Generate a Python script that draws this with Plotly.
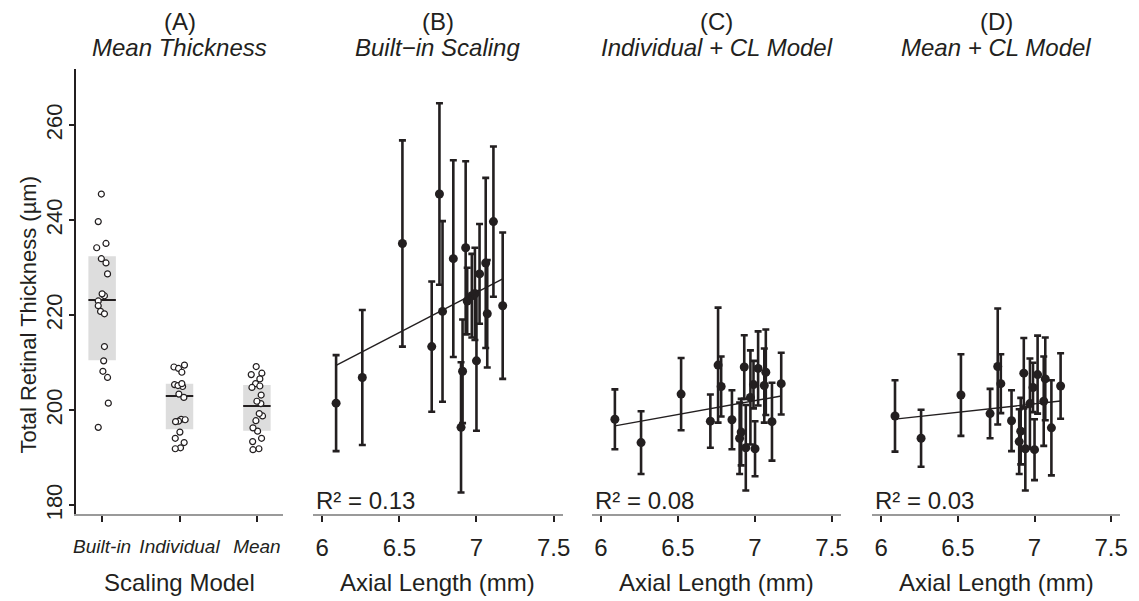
import numpy as np
import plotly.graph_objects as go

W, H = 1139, 601


def px(x):
    return x / W


def py(y):
    return 1 - y / H


# ---------------- data ----------------
axial_length = [6.09, 6.26, 6.52, 6.71, 6.76, 6.78, 6.85, 6.90, 6.91, 6.93,
                6.94, 6.97, 6.99, 7.00, 7.02, 7.06, 7.07, 7.11, 7.17]

builtin_thk = [201.5, 206.9, 235.1, 213.4, 245.5, 220.8, 231.9, 196.4, 208.2, 234.2,
               223.0, 224.1, 224.5, 210.4, 228.7, 231.0, 220.3, 239.7, 222.0]
builtin_err = [10.1, 14.2, 21.7, 13.7, 19.1, 19.0, 20.7, 13.7, 10.9, 18.2,
               7.0, 8.8, 9.7, 14.7, 10.5, 17.9, 11.3, 15.8, 15.4]

individual_thk = [198.1, 193.2, 203.4, 197.7, 209.5, 205.0, 198.0, 194.1, 195.4, 209.1,
                  192.1, 202.7, 205.4, 191.9, 208.8, 205.2, 208.0, 197.6, 205.6]
individual_err = [6.3, 6.6, 7.6, 5.6, 12.1, 6.3, 6.2, 7.5, 7.0, 6.7,
                  9.0, 9.9, 5.0, 5.8, 7.8, 7.8, 9.0, 8.2, 6.5]

mean_thk = [198.8, 194.1, 203.2, 199.3, 209.2, 205.6, 197.8, 193.4, 195.6, 207.8,
            191.9, 201.4, 204.8, 191.7, 207.5, 201.9, 206.6, 196.3, 205.1]
mean_err = [7.5, 6.0, 8.6, 5.2, 12.2, 6.2, 6.4, 6.8, 7.0, 7.4,
            8.8, 9.5, 5.2, 6.4, 8.2, 9.4, 8.7, 10.0, 6.9]

# horizontal jitter of the strip chart in panel A (category units)
builtin_jit = [0.08, 0.07, 0.05, 0.03, -0.01, -0.02, -0.01, -0.05, 0.01, -0.07,
               -0.05, 0.03, 0.0, 0.02, 0.07, 0.05, 0.03, -0.05, -0.05]
individual_jit = [0.022, 0.06, -0.008, -0.013, 0.064, 0.04, 0.073, -0.055, 0.005, -0.072,
                  0.013, 0.056, -0.064, -0.055, -0.013, -0.02, 0.03, -0.051, 0.03]
mean_jit = [0.073, 0.06, 0.055, 0.03, -0.009, -0.017, -0.013, -0.055, 0.009, 0.064,
            0.026, 0.051, -0.064, -0.051, -0.073, 0.0, 0.038, -0.051, 0.038]

categories = ["Built-in", "Individual", "Mean"]
cat_pos = [1, 2, 3]
box_mid = [223.2, 203.0, 200.9]
box_low = [210.5, 196.0, 195.7]
box_high = [232.4, 205.6, 205.3]

# regression fits (intercept, slope) and R^2
fit_intercept = [106.5, 161.2, 176.7]
fit_slope = [16.9, 5.83, 3.52]
r2_labels = ["R\u00b2 = 0.13", "R\u00b2 = 0.08", "R\u00b2 = 0.03"]

panel_letters = ["(A)", "(B)", "(C)", "(D)"]
panel_titles = ["Mean Thickness", "Built\u2212in Scaling", "Individual + CL Model", "Mean + CL Model"]

y_ticks = [180, 200, 220, 240, 260]
x_ticks = [6, 6.5, 7, 7.5]
x_ticklabels = ["6", "6.5", "7", "7.5"]

# ---------------- style ----------------
INK = "#231f20"
FONT = "Liberation Sans"
AXGRAY = "#9a9a9a"

panel_px = [(74, 282.7), (312.7, 564.8), (594, 845.7), (876.7, 1127.3)]
y_top, y_bot = 69.3, 519.5
y_range = [178.1, 271.9]

fig = go.Figure()

# ---- panel A ----
fig.add_trace(go.Bar(
    x=cat_pos, y=np.array(box_high) - np.array(box_low), base=box_low,
    width=0.355, marker=dict(color="#dddddd", line_width=0),
    xaxis="x", yaxis="y", hoverinfo="skip"))
for p, m in zip(cat_pos, box_mid):
    fig.add_trace(go.Scatter(
        x=[p - 0.1775, p + 0.1775], y=[m, m], mode="lines",
        line=dict(color=INK, width=2.2), xaxis="x", yaxis="y"))
for p, vals, jit in zip(cat_pos, [builtin_thk, individual_thk, mean_thk],
                        [builtin_jit, individual_jit, mean_jit]):
    fig.add_trace(go.Scatter(
        x=[p + j for j in jit], y=vals, mode="markers",
        marker=dict(symbol="circle", size=6, color="white",
                    line=dict(color=INK, width=1.2)),
        xaxis="x", yaxis="y"))

# ---- panels B-D ----
series = [(builtin_thk, builtin_err), (individual_thk, individual_err), (mean_thk, mean_err)]
for k, (vals, err) in enumerate(series):
    xa = "x%d" % (k + 2)
    ya = "y%d" % (k + 2)
    fig.add_trace(go.Scatter(
        x=axial_length, y=vals, mode="markers",
        marker=dict(size=9, color=INK),
        error_y=dict(type="data", array=err, visible=True, color=INK,
                     thickness=2.6, width=3.5),
        xaxis=xa, yaxis=ya))
    xs = np.array([min(axial_length), max(axial_length)])
    fig.add_trace(go.Scatter(
        x=xs, y=fit_intercept[k] + fit_slope[k] * xs, mode="lines",
        line=dict(color=INK, width=1.4), xaxis=xa, yaxis=ya))

# ---------------- axes ----------------
layout = dict(
    width=W, height=H, margin=dict(l=0, r=0, t=0, b=0),
    paper_bgcolor="white", plot_bgcolor="white", showlegend=False,
    font=dict(family=FONT, color=INK),
)

ydom = [py(y_bot), py(y_top)]
layout["xaxis"] = dict(
    domain=[px(panel_px[0][0]), px(panel_px[0][1])], range=[0.667, 3.34],
    tickvals=cat_pos, ticktext=categories,
    tickfont=dict(family=FONT, size=19, color=INK, style="italic"),
    ticklabelstandoff=8,
    showline=True, linecolor=AXGRAY, linewidth=2,
    ticks="outside", ticklen=6, tickwidth=1.5, tickcolor=INK,
    showgrid=False, zeroline=False, anchor="y", fixedrange=True)
layout["yaxis"] = dict(
    domain=ydom, range=y_range, tickvals=y_ticks, tickangle=-90,
    tickfont=dict(family=FONT, size=22, color=INK),
    ticklabelstandoff=-2,
    showline=True, linecolor=INK, linewidth=1.5,
    ticks="outside", ticklen=6, tickwidth=1.5, tickcolor=INK,
    showgrid=False, zeroline=False, anchor="x")

for k in range(3):
    i = k + 2
    layout["xaxis%d" % i] = dict(
        domain=[px(panel_px[k + 1][0]), px(panel_px[k + 1][1])], range=[5.94, 7.56],
        tickvals=x_ticks, ticktext=x_ticklabels,
        tickfont=dict(family=FONT, size=24, color=INK),
        ticklabelstandoff=5,
        showline=True, linecolor=AXGRAY, linewidth=2,
        ticks="outside", ticklen=6, tickwidth=1.5, tickcolor=INK,
        showgrid=False, zeroline=False, anchor="y%d" % i)
    layout["yaxis%d" % i] = dict(
        domain=ydom, range=y_range, visible=False, showgrid=False,
        zeroline=False, anchor="x%d" % i)

# ---------------- annotations ----------------
ann = []
for (l, r), letter, title in zip(panel_px, panel_letters, panel_titles):
    cx = px((l + r) / 2)
    ann.append(dict(x=cx, y=py(22), xref="paper", yref="paper", text=letter,
                    showarrow=False, xanchor="center", yanchor="middle",
                    font=dict(family=FONT, size=24, color=INK)))
    ann.append(dict(x=cx, y=py(48), xref="paper", yref="paper", text="<i>%s</i>" % title,
                    showarrow=False, xanchor="center", yanchor="middle",
                    font=dict(family=FONT, size=24, color=INK)))

ann.append(dict(x=px((panel_px[0][0] + panel_px[0][1]) / 2), y=py(588), xref="paper", yref="paper",
                text="Scaling Model", showarrow=False, xanchor="center", yanchor="middle",
                font=dict(family=FONT, size=24, color=INK)))
for k in range(3):
    l, r = panel_px[k + 1]
    ann.append(dict(x=px((l + r) / 2), y=py(588), xref="paper", yref="paper",
                    text="Axial Length (mm)", showarrow=False, xanchor="center", yanchor="middle",
                    font=dict(family=FONT, size=24, color=INK)))
    ann.append(dict(x=px(l + 1), y=py(506), xref="paper", yref="paper",
                    text=r2_labels[k], showarrow=False, xanchor="left", yanchor="middle",
                    font=dict(family=FONT, size=24, color=INK)))

ann.append(dict(x=px(26), y=py(318), xref="paper", yref="paper",
                text="Total Retinal Thickness (\u00b5m)", textangle=-90, showarrow=False,
                xanchor="center", yanchor="middle",
                font=dict(family=FONT, size=22, color=INK)))

layout["annotations"] = ann
fig.update_layout(**layout)
fig.write_html("out.html")
